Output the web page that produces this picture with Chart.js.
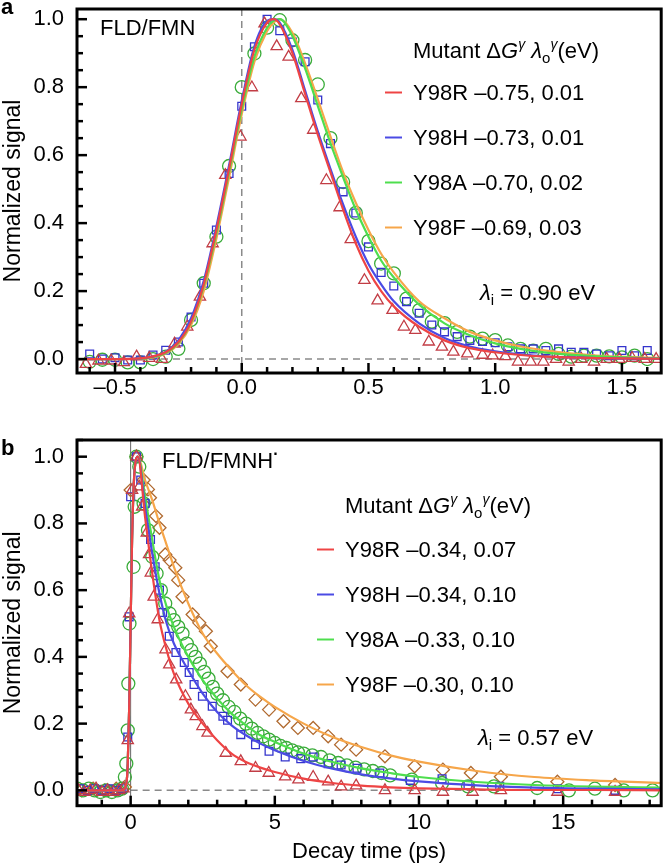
<!DOCTYPE html>
<html>
<head>
<meta charset="utf-8">
<script src="https://cdn.jsdelivr.net/npm/chart.js@4.4.1/dist/chart.umd.min.js"></script>
<style>
  body { margin: 0; background: #fff; width: 669px; height: 865px; position: relative; overflow: hidden; }
  canvas { position: absolute; left: 0; }
  #chartA { top: 0; }
  #chartB { top: 430px; }
</style>
</head>
<body>
<canvas id="chartA" width="669" height="405"></canvas>
<canvas id="chartB" width="669" height="435"></canvas>
<script>
const FONT = "'Liberation Sans', Arial, Helvetica, sans-serif";

// legend labels
const mutants = ['Y98R', 'Y98H', 'Y98A', 'Y98F'];
const aParams = ['–0.75, 0.01', '–0.73, 0.01', '–0.70, 0.02', '–0.69, 0.03'];
const bParams = ['–0.34, 0.07', '–0.34, 0.10', '–0.33, 0.10', '–0.30, 0.10'];
const aLambda = ' = 0.90 eV';
const bLambda = ' = 0.57 eV';

// tick labels
const aXTicks = [-0.5, 0, 0.5, 1.0, 1.5];
const aXLabels = ['–0.5', '0.0', '0.5', '1.0', '1.5'];
const bXTicks = [0, 5, 10, 15];
const bXLabels = ['0', '5', '10', '15'];
const yTicks = [0, 0.2, 0.4, 0.6, 0.8, 1.0];
const yLabels = ['0.0', '0.2', '0.4', '0.6', '0.8', '1.0'];

// colours: fits red, blue, green, orange ; markers
const fitColors = ['#ee4444', '#4b4be4', '#4ede4e', '#f6a64a'];
const markColors = ['#c23d45', '#3434cc', '#3aac3a', '#b06a30'];

// ---------- panel a : measured points [time ps, signal] ----------
const aY98R = [[-0.615,-0.015],[-0.565,-0.005],[-0.515,-0.005],[-0.465,-0.01],[-0.415,0.007],[-0.365,0.003],[-0.315,0.0],[-0.265,0.045],[-0.215,0.095],[-0.165,0.183],[-0.115,0.34],[-0.065,0.541],[-0.005,0.654],[0.04,0.799],[0.09,0.987],[0.138,0.92],[0.185,0.889],[0.235,0.767],[0.282,0.674],[0.334,0.526],[0.386,0.446],[0.43,0.352],[0.484,0.232],[0.536,0.172],[0.595,0.144],[0.64,0.095],[0.685,0.085],[0.738,0.051],[0.79,0.036],[0.835,0.021],[0.89,0.016],[0.95,0.012],[0.99,0.01],[1.04,0.008],[1.09,-0.008],[1.14,-0.008],[1.19,-0.008],[1.24,0.0],[1.29,-0.008],[1.34,0.0],[1.39,-0.008],[1.44,0.0],[1.49,0.0],[1.54,0.003],[1.59,0.0],[1.635,0.0]];
const aY98H = [[-0.6,0.015],[-0.55,0.0],[-0.5,0.004],[-0.45,-0.003],[-0.4,-0.003],[-0.35,0.012],[-0.3,0.026],[-0.25,0.05],[-0.2,0.124],[-0.15,0.223],[-0.1,0.38],[-0.05,0.546],[0.0,0.744],[0.05,0.919],[0.1,1.0],[0.15,0.966],[0.2,0.933],[0.25,0.875],[0.3,0.762],[0.35,0.634],[0.4,0.492],[0.45,0.43],[0.5,0.33],[0.55,0.255],[0.6,0.215],[0.65,0.169],[0.7,0.135],[0.75,0.1],[0.8,0.08],[0.85,0.066],[0.9,0.055],[0.95,0.052],[1.0,0.048],[1.05,0.036],[1.1,0.03],[1.15,0.03],[1.2,0.025],[1.25,0.03],[1.3,0.02],[1.35,0.02],[1.4,0.015],[1.45,0.01],[1.5,0.025],[1.55,0.01],[1.6,0.025]];
const aY98A = [[-0.6,-0.008],[-0.55,-0.002],[-0.5,-0.002],[-0.45,-0.01],[-0.4,-0.01],[-0.35,0.0],[-0.3,0.007],[-0.25,0.03],[-0.2,0.115],[-0.15,0.223],[-0.1,0.36],[-0.05,0.568],[0.0,0.8],[0.05,0.899],[0.1,0.975],[0.15,0.997],[0.2,0.938],[0.25,0.88],[0.3,0.808],[0.35,0.65],[0.4,0.521],[0.45,0.43],[0.5,0.347],[0.55,0.281],[0.6,0.252],[0.65,0.178],[0.7,0.144],[0.75,0.11],[0.8,0.106],[0.85,0.08],[0.9,0.066],[0.95,0.06],[1.0,0.056],[1.05,0.04],[1.1,0.03],[1.15,0.025],[1.2,0.03],[1.25,0.015],[1.3,0.007],[1.35,0.01],[1.4,0.01],[1.45,0.008],[1.5,0.005],[1.55,0.01],[1.6,0.0]];

// panel a : fitted curves
const aFitTime = [-0.65,-0.5,-0.4,-0.35,-0.3,-0.25,-0.2,-0.15,-0.1,-0.05,0,0.05,0.1,0.125,0.15,0.2,0.25,0.3,0.35,0.4,0.45,0.5,0.55,0.6,0.7,0.8,0.9,1.0,1.1,1.2,1.4,1.655];
const aFitR = [0,0,0.002,0.008,0.02,0.05,0.11,0.22,0.38,0.56,0.75,0.91,0.99,1.0,0.985,0.9,0.78,0.66,0.55,0.44,0.34,0.26,0.2,0.155,0.095,0.055,0.032,0.02,0.012,0.007,0.003,0.001];
const aFitH = [0,0,0.002,0.008,0.022,0.055,0.12,0.23,0.39,0.57,0.76,0.92,0.995,1.0,0.99,0.91,0.79,0.67,0.56,0.455,0.36,0.28,0.22,0.17,0.105,0.062,0.037,0.023,0.014,0.008,0.003,0.001];
const aFitA = [0,0,0.001,0.006,0.018,0.048,0.108,0.215,0.37,0.55,0.735,0.89,0.975,0.995,1.0,0.95,0.855,0.745,0.635,0.535,0.44,0.36,0.29,0.24,0.16,0.105,0.07,0.046,0.03,0.019,0.008,0.002];
const aFitF = [0,0,0.001,0.005,0.016,0.044,0.1,0.2,0.355,0.535,0.72,0.875,0.965,0.99,1.0,0.96,0.87,0.765,0.655,0.55,0.46,0.38,0.31,0.255,0.17,0.12,0.08,0.055,0.037,0.025,0.01,0.003];

// ---------- panel b : measured points ----------
const bY98R = [[-1.8,0.0],[-1.6,-0.005],[-1.4,0.0],[-1.2,0.005],[-1.0,-0.005],[-0.8,0.0],[-0.6,-0.005],[-0.4,0.0],[-0.25,0.005],[-0.1,0.15],[-0.05,0.53],[0.05,0.9],[0.2,1.0],[0.3,0.91],[0.4,0.85],[0.56,0.772],[0.64,0.707],[0.7,0.652],[0.8,0.58],[0.94,0.512],[1.21,0.422],[1.34,0.377],[1.58,0.332],[1.9,0.282],[2.09,0.242],[2.26,0.222],[2.49,0.192],[2.67,0.172],[3.3,0.112],[3.82,0.087],[4.33,0.067],[4.79,0.052],[5.36,0.041],[5.82,0.032],[6.33,0.04],[6.85,0.026],[7.3,0.011],[7.82,0.014],[8.82,0.0],[9.85,0.0],[10.83,-0.005],[11.86,-0.005],[12.84,0.0],[14.8,-0.005],[16.8,-0.005]];
const bY98H = [[-1.75,0.005],[-1.5,0.0],[-1.25,0.005],[-1.0,0.0],[-0.75,0.005],[-0.5,0.0],[-0.3,0.005],[-0.1,0.16],[-0.05,0.52],[0.0,0.88],[0.2,1.0],[0.35,0.93],[0.5,0.86],[0.69,0.752],[0.85,0.67],[1.0,0.6],[1.11,0.533],[1.34,0.462],[1.57,0.413],[1.86,0.383],[2.03,0.353],[2.2,0.317],[2.49,0.282],[2.83,0.252],[3.2,0.222],[3.36,0.21],[3.82,0.167],[4.33,0.137],[4.8,0.117],[5.36,0.1],[5.9,0.095],[6.33,0.1],[6.85,0.08],[7.3,0.076],[7.85,0.066],[8.64,0.052],[9.7,0.03],[10.8,0.035],[11.7,0.017],[12.8,0.012],[14.8,0.005],[16.8,0.0]];
const bY98A = [[-1.85,0.005],[-1.65,0.0],[-1.45,0.005],[-1.25,0.0],[-1.05,-0.005],[-0.85,0.0],[-0.65,-0.005],[-0.45,0.0],[-0.3,0.005],[-0.2,0.04],[-0.15,0.08],[-0.1,0.18],[-0.08,0.32],[-0.04,0.5],[0.1,0.67],[0.14,0.85],[0.2,1.0],[0.3,0.97],[0.45,0.86],[0.6,0.78],[0.75,0.7],[0.9,0.65],[1.05,0.6],[1.2,0.56],[1.35,0.53],[1.5,0.51],[1.65,0.49],[1.8,0.47],[1.95,0.44],[2.1,0.42],[2.25,0.4],[2.4,0.38],[2.55,0.355],[2.7,0.335],[2.85,0.31],[3.0,0.29],[3.2,0.27],[3.4,0.25],[3.6,0.235],[3.8,0.215],[4.0,0.2],[4.2,0.185],[4.4,0.172],[4.6,0.162],[4.8,0.152],[5.0,0.142],[5.2,0.133],[5.4,0.127],[5.6,0.12],[5.8,0.114],[6.0,0.11],[6.3,0.105],[6.6,0.1],[6.9,0.09],[7.2,0.082],[7.5,0.075],[7.8,0.068],[8.1,0.063],[8.4,0.058],[8.7,0.052],[9.0,0.045],[9.75,0.032],[10.8,0.022],[11.7,0.012],[12.6,0.012],[14.1,0.007],[15.2,0.0],[16.1,0.005],[17.1,0.0],[18.1,0.0]];
const bY98F = [[-1.7,0.0],[-1.3,0.005],[-0.9,0.0],[-0.5,0.005],[-0.2,0.01],[0.0,0.9],[0.2,1.0],[0.45,0.93],[0.6,0.902],[0.67,0.877],[0.88,0.822],[1.0,0.787],[1.2,0.707],[1.35,0.69],[1.55,0.667],[1.65,0.63],[1.8,0.58],[2.15,0.527],[2.38,0.502],[2.61,0.477],[2.78,0.432],[3.36,0.357],[3.82,0.317],[4.33,0.272],[4.8,0.242],[5.3,0.207],[5.8,0.187],[6.33,0.187],[6.85,0.162],[7.3,0.137],[7.82,0.122],[8.82,0.102],[9.85,0.072],[10.83,0.062],[11.8,0.052],[12.84,0.041],[14.8,0.026],[16.8,0.016]];

// panel b : fitted curves
const bFitTime = [-1.9,-0.3,-0.15,-0.1,-0.05,0,0.05,0.1,0.15,0.25,0.5,0.75,1.0,1.25,1.5,2.0,2.5,3.0,3.5,4.0,4.5,5.0,6.0,7.0,8.0,9.0,10,12,14,16,18.4];
const bFitR = [0,0,0.02,0.08,0.25,0.5,0.75,0.9,0.97,1.0,0.82,0.65,0.51,0.42,0.35,0.26,0.2,0.15,0.11,0.085,0.068,0.055,0.035,0.022,0.014,0.009,0.006,0.003,0.001,0.001,0];
const bFitH = [0,0,0.02,0.08,0.25,0.5,0.75,0.9,0.97,1.0,0.85,0.71,0.59,0.5,0.44,0.36,0.29,0.235,0.195,0.165,0.14,0.12,0.088,0.065,0.048,0.036,0.027,0.015,0.008,0.005,0.003];
const bFitA = [0,0,0.02,0.08,0.25,0.5,0.75,0.9,0.97,1.0,0.88,0.75,0.63,0.55,0.49,0.4,0.33,0.275,0.23,0.195,0.165,0.145,0.11,0.085,0.066,0.052,0.04,0.025,0.016,0.011,0.008];
const bFitF = [0,0,0.02,0.08,0.25,0.5,0.75,0.9,0.97,1.0,0.93,0.87,0.8,0.735,0.67,0.56,0.47,0.41,0.36,0.315,0.28,0.25,0.2,0.16,0.13,0.105,0.086,0.058,0.04,0.03,0.022];

// ---------- helpers ----------
const pts = arr => arr.map(p => ({x: p[0], y: p[1]}));
const fitPts = (ts, vs) => ts.map((t, i) => ({x: t, y: vs[i]}));
const reg = s => `${s}px ${FONT}`;
const ital = s => `italic ${s}px ${FONT}`;
const TXT = 22;

function labeller(values, labels) {
  return v => {
    const i = values.findIndex(t => Math.abs(t - v) < 1e-6);
    return i >= 0 ? labels[i] : '';
  };
}

function markerSet(data, style, color, r) {
  return {
    data: pts(data), showLine: false, order: 2,
    pointStyle: style, pointRadius: r, pointBorderWidth: 1.3,
    borderColor: color, backgroundColor: 'rgba(0,0,0,0)',
    pointBackgroundColor: 'rgba(0,0,0,0)', pointBorderColor: color
  };
}
function fitSet(ts, vs, color) {
  return {
    data: fitPts(ts, vs), showLine: true, order: 1,
    pointRadius: 0, borderWidth: 2.2, borderColor: color,
    cubicInterpolationMode: 'monotone', fill: false
  };
}

function drawParts(ctx, x, y, parts) {
  parts.forEach(p => {
    ctx.font = p.font;
    ctx.fillText(p.text, x, y + (p.dy || 0));
    x += ctx.measureText(p.text).width;
  });
}

// frame, inward ticks, reference lines and the text of each panel
const panelPlugin = {
  id: 'panel',
  beforeDatasetsDraw(chart, args, o) {
    const ctx = chart.ctx, a = chart.chartArea;
    const x0 = chart.scales.x.getPixelForValue(0);
    const y0 = chart.scales.y.getPixelForValue(0);
    ctx.save();
    ctx.strokeStyle = '#8a8a8a';
    ctx.lineWidth = 1.5;
    ctx.setLineDash([7, 5]);
    ctx.beginPath();
    ctx.moveTo(o.zeroFromOrigin ? x0 : a.left, y0);
    ctx.lineTo(a.right, y0);
    ctx.stroke();
    if (!o.solidVertical) {
      ctx.beginPath(); ctx.moveTo(x0, a.top); ctx.lineTo(x0, a.bottom); ctx.stroke();
    } else {
      ctx.setLineDash([]);
      ctx.strokeStyle = '#666';
      ctx.lineWidth = 1;
      ctx.beginPath(); ctx.moveTo(x0, a.top); ctx.lineTo(x0, a.bottom); ctx.stroke();
    }
    ctx.restore();
  },
  afterDraw(chart, args, o) {
    const ctx = chart.ctx, a = chart.chartArea;
    const xs = chart.scales.x, ys = chart.scales.y;
    ctx.save();
    ctx.strokeStyle = '#000';
    ctx.lineWidth = 2.5;
    xs.ticks.forEach(t => {
      if (t.value < xs.min || t.value > xs.max) return;
      const px = xs.getPixelForValue(t.value);
      const len = t.label ? 10 : 6;
      ctx.beginPath(); ctx.moveTo(px, a.bottom); ctx.lineTo(px, a.bottom - len); ctx.stroke();
    });
    ys.ticks.forEach(t => {
      if (t.value < ys.min || t.value > ys.max) return;
      const py = ys.getPixelForValue(t.value);
      const len = t.label ? 10 : 6;
      ctx.beginPath(); ctx.moveTo(a.left, py); ctx.lineTo(a.left + len, py); ctx.stroke();
    });
    ctx.lineWidth = 3;
    ctx.strokeRect(a.left, a.top, a.right - a.left, a.bottom - a.top);

    // texts
    ctx.fillStyle = '#000';
    ctx.textBaseline = 'alphabetic';
    ctx.textAlign = 'left';
    ctx.font = `bold 22px ${FONT}`;
    ctx.fillText(o.letter, 1, o.letterY);
    drawParts(ctx, o.nameX, o.nameY, o.name);
    drawParts(ctx, o.legX, o.headY, [
      {text: 'Mutant ', font: reg(TXT)},
      {text: 'Δ', font: reg(TXT)},
      {text: 'G', font: ital(TXT)},
      {text: 'γ', font: ital(14), dy: -9},
      {text: ' ', font: reg(TXT)},
      {text: 'λ', font: ital(TXT)},
      {text: 'o', font: reg(15), dy: 5},
      {text: 'γ', font: ital(14), dy: -9},
      {text: '(eV)', font: reg(TXT)}
    ]);
    o.rows.forEach((txt, i) => {
      const y = o.rowY0 + i * o.rowStep;
      ctx.strokeStyle = fitColors[i];
      ctx.lineWidth = 2;
      ctx.beginPath(); ctx.moveTo(o.legX - 28, y - 7.5); ctx.lineTo(o.legX - 11, y - 7.5); ctx.stroke();
      ctx.font = reg(TXT);
      ctx.fillText(mutants[i] + ' ' + txt, o.legX, y);
    });
    drawParts(ctx, o.lamX, o.lamY, [
      {text: 'λ', font: ital(TXT)},
      {text: 'i', font: reg(15), dy: 5},
      {text: o.lambda, font: reg(TXT)}
    ]);
    ctx.restore();
  }
};

function makeChart(id, datasets, cfg) {
  return new Chart(document.getElementById(id), {
    type: 'scatter',
    data: {datasets: datasets},
    plugins: [panelPlugin],
    options: {
      responsive: false,
      animation: false,
      events: [],
      devicePixelRatio: 1,
      layout: {padding: {top: cfg.padTop, right: cfg.padRight, left: 0, bottom: 0}},
      plugins: {legend: {display: false}, tooltip: {enabled: false}, panel: cfg.panel},
      scales: {
        x: {
          type: 'linear', min: cfg.xMin, max: cfg.xMax,
          grid: {display: false, drawTicks: false}, border: {display: false},
          ticks: {stepSize: cfg.xStep, includeBounds: false, autoSkip: false, maxRotation: 0,
                  padding: cfg.xPad, color: '#000', font: {family: FONT, size: 22},
                  callback: labeller(cfg.xTicks, cfg.xLabels)},
          title: cfg.xTitle ? {display: true, text: cfg.xTitle, color: '#000',
                  font: {family: FONT, size: 22}, padding: 0} : {display: false},
          afterFit: s => { s.height = cfg.xHeight; s.paddingLeft = 0; s.paddingRight = 0; }
        },
        y: {
          type: 'linear', min: cfg.yMin, max: cfg.yMax,
          grid: {display: false, drawTicks: false}, border: {display: false},
          ticks: {stepSize: 0.05, includeBounds: false, autoSkip: false,
                  padding: 13, color: '#000', font: {family: FONT, size: 22},
                  callback: labeller(yTicks, yLabels)},
          title: {display: true, text: 'Normalized signal', color: '#000',
                  font: {family: FONT, size: 23}, padding: 0},
          afterFit: s => { s.width = 77; s.paddingTop = 0; s.paddingBottom = 0; }
        }
      }
    }
  });
}

makeChart('chartA', [
  fitSet(aFitTime, aFitR, fitColors[0]),
  fitSet(aFitTime, aFitH, fitColors[1]),
  fitSet(aFitTime, aFitA, fitColors[2]),
  fitSet(aFitTime, aFitF, fitColors[3]),
  markerSet(aY98R, 'triangle', markColors[0], 6.5),
  markerSet(aY98H, 'rect', markColors[1], 5.5),
  markerSet(aY98A, 'circle', markColors[2], 6.5)
], {
  padTop: 9, padRight: 2, xMin: -0.65, xMax: 1.655, xStep: 0.1, xPad: 2, xHeight: 32,
  xTicks: aXTicks, xLabels: aXLabels, yMin: -0.041, yMax: 1.03,
  panel: {
    letter: 'a', letterY: 14, nameX: 100, nameY: 35,
    name: [{text: 'FLD/FMN', font: reg(TXT)}],
    legX: 413, headY: 58, rows: aParams, rowY0: 100, rowStep: 45,
    lamX: 480, lamY: 300, lambda: aLambda, zeroFromOrigin: false, solidVertical: false
  }
});

makeChart('chartB', [
  fitSet(bFitTime, bFitR, fitColors[0]),
  fitSet(bFitTime, bFitH, fitColors[1]),
  fitSet(bFitTime, bFitA, fitColors[2]),
  fitSet(bFitTime, bFitF, fitColors[3]),
  markerSet(bY98R, 'triangle', markColors[0], 6.5),
  markerSet(bY98H, 'rect', markColors[1], 5.5),
  markerSet(bY98A, 'circle', markColors[2], 6.5),
  markerSet(bY98F, 'rectRot', markColors[3], 6.5)
], {
  padTop: 10, padRight: 4, xMin: -1.86, xMax: 18.4, xStep: 1, xPad: 4, xHeight: 59.3,
  xTicks: bXTicks, xLabels: bXLabels, xTitle: 'Decay time (ps)', yMin: -0.046, yMax: 1.05,
  panel: {
    letter: 'b', letterY: 25, nameX: 162, nameY: 38,
    name: [{text: 'FLD/FMNH', font: reg(TXT)}, {text: '·', font: `bold 16px ${FONT}`, dy: -9}],
    legX: 345, headY: 83, rows: bParams, rowY0: 127, rowStep: 45,
    lamX: 478, lamY: 315, lambda: bLambda, zeroFromOrigin: true, solidVertical: true
  }
});
</script>
</body>
</html>
